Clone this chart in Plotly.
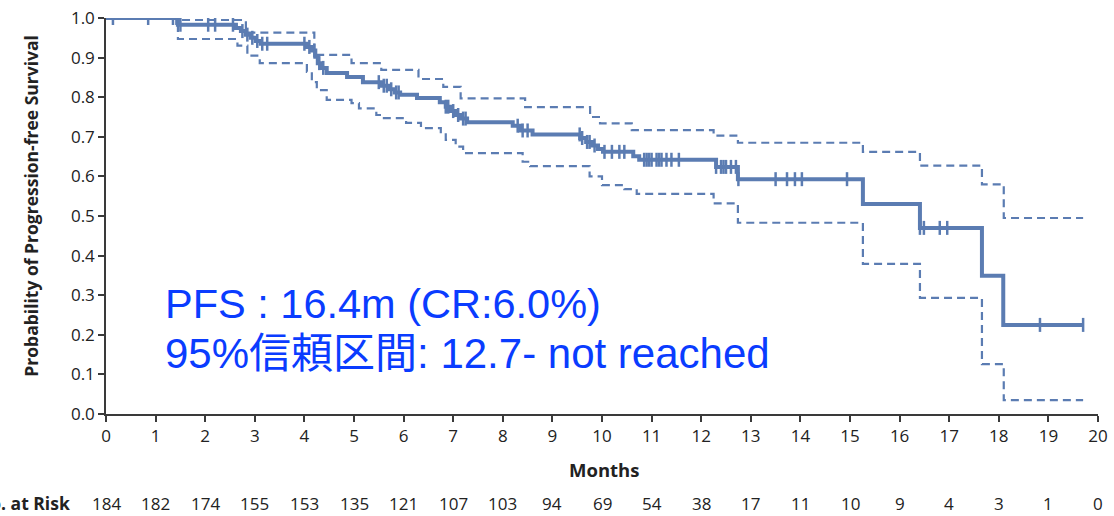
import numpy as np
import plotly.graph_objects as go

# ---- data ----
km_time = [0, 1.45, 2.62, 2.72, 2.82, 2.92, 3.02, 3.12, 4.05, 4.15, 4.22, 4.27, 4.33, 4.45,
           4.86, 5.18, 5.55, 5.7, 5.82, 5.93, 6.27, 6.73, 6.85, 6.95, 7.05, 7.15, 7.28,
           8.2, 8.35, 8.6, 9.56, 9.68, 9.8, 9.92, 10.02, 10.63, 10.75, 12.3, 12.74,
           15.26, 16.41, 17.66, 18.09, 19.7]
km_surv = [1.0, 0.983, 0.975, 0.967, 0.958, 0.950, 0.942, 0.935, 0.927, 0.918, 0.902, 0.886, 0.874, 0.861,
           0.851, 0.838, 0.829, 0.820, 0.812, 0.806, 0.798, 0.787, 0.776, 0.765, 0.755, 0.746, 0.737,
           0.728, 0.716, 0.706, 0.697, 0.687, 0.678, 0.669, 0.662, 0.651, 0.642, 0.624, 0.593,
           0.530, 0.470, 0.349, 0.225, 0.225]

upper_time = [0, 1.45, 2.82, 4.2, 4.95, 5.55, 6.3, 6.8, 7.15, 8.45, 9.76, 9.96, 10.6, 12.25,
              12.74, 15.26, 16.41, 17.66, 18.1, 19.7]
upper_val = [1.0, 0.995, 0.963, 0.907, 0.886, 0.869, 0.846, 0.826, 0.797, 0.775, 0.750, 0.734, 0.717, 0.703,
             0.685, 0.662, 0.627, 0.580, 0.495, 0.495]

lower_time = [0, 1.45, 2.65, 2.85, 3.1, 4.05, 4.15, 4.25, 4.45, 4.95, 5.1, 5.45, 5.55, 6.05, 6.35,
              6.75, 6.85, 7.05, 7.2, 8.4, 8.55, 9.75, 10.0, 10.45, 10.7, 12.25, 12.74, 15.26,
              16.41, 17.66, 18.1, 19.7]
lower_val = [1.0, 0.947, 0.93, 0.905, 0.886, 0.864, 0.838, 0.818, 0.793, 0.785, 0.772, 0.755, 0.747, 0.735, 0.722,
             0.709, 0.692, 0.675, 0.659, 0.637, 0.626, 0.600, 0.578, 0.568, 0.556, 0.532, 0.483, 0.379,
             0.293, 0.126, 0.035, 0.035]

censor_times = [0.14, 0.85, 1.35, 1.42, 1.5, 2.06, 2.2, 2.56, 2.75, 2.85, 2.95, 3.05, 3.15, 3.25,
                4.0, 4.1, 4.2, 4.3, 4.38, 5.5, 5.6, 5.66, 5.75, 5.85, 5.9, 6.85, 6.9, 7.0, 7.1,
                7.2, 7.25, 8.3, 8.4, 8.5, 9.55, 9.6, 9.7, 9.75, 9.85, 10.05, 10.2, 10.35, 10.45,
                10.85, 10.9, 10.95, 11.0, 11.1, 11.15, 11.2, 11.3, 11.4, 11.55, 12.3, 12.4, 12.45,
                12.5, 12.6, 12.7, 12.75, 13.5, 13.73, 13.89, 14.03, 14.94, 16.41, 16.49, 16.81,
                16.96, 18.83, 19.7]

risk_months = list(range(0, 21))
at_risk = [184, 182, 174, 155, 153, 135, 121, 107, 103, 94, 69, 54, 38, 17, 11, 10, 9, 4, 3, 1, 0]

y_ticks = [round(0.1 * i, 1) for i in range(11)]
x_ticks = list(range(0, 21))

# ---- style ----
COL = "#5b7cb2"
AXC = "#3a3a3a"
FONT = "'Open Sans', Lato, sans-serif"
TXT = "#222222"

# censor y positions on the step curve
kt = np.array(km_time)
ks = np.array(km_surv)
idx = np.searchsorted(kt, np.array(censor_times), side="right") - 1
censor_y = ks[idx]

fig = go.Figure()
for t, v in [(upper_time, upper_val), (lower_time, lower_val)]:
    fig.add_trace(go.Scatter(x=t, y=v, mode="lines", line=dict(color=COL, width=2.2, dash="8px,5px", shape="hv"),
                             hoverinfo="skip", showlegend=False))
fig.add_trace(go.Scatter(x=km_time, y=km_surv, mode="lines", line=dict(color=COL, width=4, shape="hv"),
                         showlegend=False))
fig.add_trace(go.Scatter(x=censor_times, y=censor_y, mode="markers",
                         marker=dict(symbol="line-ns", size=10, line=dict(color=COL, width=2.5)),
                         showlegend=False))

fig.update_layout(
    width=1114, height=516,
    margin=dict(l=106, r=16, t=18, b=102, autoexpand=False),
    paper_bgcolor="white", plot_bgcolor="white",
    font=dict(family=FONT, size=16, color=TXT),
)
fig.update_xaxes(range=[0, 20], tickvals=x_ticks, ticktext=[str(v) for v in x_ticks], automargin=False,
                 showgrid=False, zeroline=False, showline=True, linecolor=AXC, linewidth=1.5,
                 ticks="outside", ticklen=6, tickwidth=1.5, tickcolor=AXC,
                 tickfont=dict(size=17, color=TXT), fixedrange=True)
fig.update_yaxes(range=[0, 1.0], tickvals=y_ticks, ticktext=[f"{v:.1f}" for v in y_ticks], automargin=False,
                 showgrid=False, zeroline=False, showline=True, linecolor=AXC, linewidth=1.5,
                 ticks="outside", ticklen=6, tickwidth=1.5, tickcolor=AXC,
                 tickfont=dict(size=17, color=TXT), fixedrange=True)

RISK_Y = -0.226
ann = []
ann.append(dict(text="<b>Probability of Progression-free Survival</b>", xref="paper", yref="paper",
                x=-0.075, y=0.525, textangle=-90, showarrow=False, xanchor="center", yanchor="middle",
                font=dict(size=17.5, color=TXT, family=FONT)))
ann.append(dict(text="<b>Months</b>", xref="paper", yref="paper", x=0.502, y=-0.139, showarrow=False,
                xanchor="center", yanchor="middle", font=dict(size=18.5, color=TXT, family=FONT)))
ann.append(dict(text="<b>No. at Risk</b>", xref="paper", yref="paper", x=-0.034, y=RISK_Y, showarrow=False,
                xanchor="right", yanchor="middle", font=dict(size=17.5, color=TXT, family=FONT)))
for m, n in zip(risk_months, at_risk):
    ann.append(dict(text=str(n), xref="x", yref="paper", x=m, y=RISK_Y, showarrow=False,
                    xanchor="center", yanchor="middle", font=dict(size=17, color=TXT, family=FONT)))
BLUE = "#0a3cff"
TF = "Arial, 'Liberation Sans', 'Noto Sans CJK JP', sans-serif"
ann.append(dict(text="PFS : 16.4m (CR:6.0%)", xref="paper", yref="paper", x=0.057, y=0.28,
                showarrow=False, xanchor="left", yanchor="middle", font=dict(size=41.5, color=BLUE, family=TF)))
ann.append(dict(text="95%信頼区間: 12.7- not reached", xref="paper", yref="paper", x=0.057, y=0.154,
                showarrow=False, xanchor="left", yanchor="middle", font=dict(size=42, color=BLUE, family=TF)))
fig.update_layout(annotations=ann)

fig.write_html("out.html", config={"displayModeBar": False},
               post_script="document.body.style.margin='0';document.body.style.padding='0';")
